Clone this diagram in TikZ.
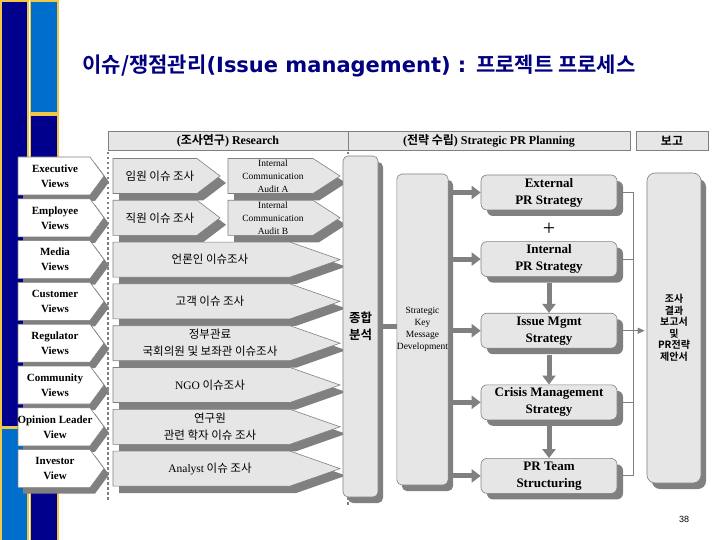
\documentclass[tikz,border=0pt]{standalone}
\usepackage{fontspec}
\setmainfont{Liberation Serif}
\newfontfamily\kr[BoldFont={Noto Sans CJK KR Bold}]{Noto Sans CJK KR}
\newfontfamily\titlefont{DejaVu Sans}
\newfontfamily\numfont{Liberation Sans}
\usetikzlibrary{positioning}
\usetikzlibrary{shadows,arrows.meta}

\definecolor{navytitle}{RGB}{0,0,128}
\definecolor{bardark}{RGB}{0,0,140}
\definecolor{barlight}{RGB}{0,110,205}
\definecolor{bargold}{RGB}{240,200,70}
\definecolor{boxgray}{RGB}{230,230,230}
\definecolor{edgegray}{RGB}{128,128,128}
\definecolor{shadowgray}{RGB}{128,128,128}

\tikzset{
  bar/.style={draw=bargold, line width=1.5pt},
  headbox/.style={rectangle, draw=edgegray, fill=boxgray, line width=0.8pt, minimum height=19, inner sep=0pt, font=\bfseries\fontsize{12}{14}\selectfont},
  viewshape/.style={fill=white, draw=edgegray, line width=0.6pt},
  resshape/.style={fill=boxgray, draw=edgegray, line width=0.6pt},
  viewtext/.style={align=center, inner sep=0pt, font=\bfseries\fontsize{11}{15}\selectfont},
  restext/.style={align=center, inner sep=0pt, font=\kr\fontsize{11.5}{17}\selectfont},
  audittext/.style={align=center, inner sep=0pt, font=\fontsize{9.5}{13}\selectfont},
  tallbox/.style={rectangle, rounded corners=5pt, draw=edgegray, fill=boxgray, line width=0.6pt, align=center, inner sep=0pt,
    drop shadow={shadow xshift=5pt, shadow yshift=-6pt, fill=shadowgray, opacity=1}},
  stratbox/.style={rectangle, rounded corners=6pt, draw=edgegray, fill=boxgray, line width=0.6pt, minimum width=136, minimum height=35, align=center, inner sep=0pt,
    font=\bfseries\fontsize{13}{17}\selectfont,
    drop shadow={shadow xshift=6pt, shadow yshift=-6pt, fill=shadowgray, opacity=1}},
  thickgray/.style={draw=shadowgray, line width=5pt},
  thickarrow/.style={thickgray, -{Triangle[length=9pt,width=13pt]}},
  thinline/.style={draw=edgegray, line width=1pt},
}

\begin{document}
\begin{tikzpicture}[x=1pt,y=-1pt]

\useasboundingbox (0,0) rectangle (720,540);

% side bars
\filldraw[bar, fill=bardark] (1,1) rectangle (28,427);
\filldraw[bar, fill=barlight] (1,428) rectangle (28,541);
\filldraw[bar, fill=barlight] (30.5,1) rectangle (58,113);
\filldraw[bar, fill=bardark] (30.5,115) rectangle (58,541);

\node[font=\titlefont\bfseries\fontsize{21}{24}\selectfont, text=navytitle, inner sep=0pt] (title) at (359,66)
  {{\kr 이슈/쟁점관리}(Issue management) : {\kr 프로젝트 프로세스}};

% headers
\node[headbox, minimum width=240] (hres) at (228,141) {({\kr 조사연구}) Research};
\node[headbox, minimum width=282] (hplan) at (489,141) {({\kr 전략 수립}) Strategic PR Planning};
\node[headbox, minimum width=72] (hrep) at (672,141) {{\kr 보고}};

% views
\foreach \yc/\nm/\txt in {176/exec/{Executive\\Views}, 217.8/empl/{Employee\\Views}, 259.6/media/{Media\\Views},
    301.4/cust/{Customer\\Views}, 343.2/regu/{Regulator\\Views}, 385/comm/{Community\\Views},
    426.8/opin/{Opinion Leader\\View}, 468.6/inve/{Investor\\View}}{
  \fill[shadowgray, shift={(5,6)}] (18,\yc-19) -- (90,\yc-19) -- (104,\yc) -- (90,\yc+19) -- (18,\yc+19) -- cycle;
  \filldraw[viewshape] (18,\yc-19) -- (90,\yc-19) -- (104,\yc) -- (90,\yc+19) -- (18,\yc+19) -- cycle;
  \node[viewtext] (\nm) at (55,\yc) {\txt};
}

% research, two short steps
\foreach \yc/\nm/\txt/\aud in {176/resexec/{임원 이슈 조사}/A, 217.8/resempl/{직원 이슈 조사}/B}{
  \fill[shadowgray, shift={(6,7)}] (113,\yc-17.5) -- (197,\yc-17.5) -- (220,\yc) -- (197,\yc+17.5) -- (113,\yc+17.5) -- cycle;
  \fill[shadowgray, shift={(6,7)}] (228,\yc-17.5) -- (313,\yc-17.5) -- (340,\yc) -- (313,\yc+17.5) -- (228,\yc+17.5) -- cycle;
  \filldraw[resshape] (113,\yc-17.5) -- (197,\yc-17.5) -- (220,\yc) -- (197,\yc+17.5) -- (113,\yc+17.5) -- cycle;
  \filldraw[resshape] (228,\yc-17.5) -- (313,\yc-17.5) -- (340,\yc) -- (313,\yc+17.5) -- (228,\yc+17.5) -- cycle;
  \node[restext] (\nm) at (160,\yc) {\txt};
  \node[audittext] (audit\aud) at (273,\yc) {Internal\\Communication\\Audit \aud};
}

% research, long steps
\foreach \yc/\nm/\txt in {259.6/resmedia/{언론인 이슈조사}, 301.4/rescust/{고객 이슈 조사},
    343.2/resregu/{정부관료\\국회의원 및 보좌관 이슈조사}, 385/rescomm/{{\rmfamily NGO} 이슈조사},
    426.8/resopin/{연구원\\관련 학자 이슈 조사}, 468.6/resinve/{{\rmfamily Analyst} 이슈 조사}}{
  \fill[shadowgray, shift={(6,7)}] (113,\yc-17.5) -- (290,\yc-17.5) -- (340,\yc) -- (290,\yc+17.5) -- (113,\yc+17.5) -- cycle;
  \filldraw[resshape] (113,\yc-17.5) -- (290,\yc-17.5) -- (340,\yc) -- (290,\yc+17.5) -- (113,\yc+17.5) -- cycle;
  \node[restext] (\nm) at (210,\yc) {\txt};
}

% dotted borders
\draw[draw=edgegray, line width=2.5pt, dash pattern=on 2.5pt off 2.5pt] (108,152) -- (108,501);
\draw[draw=edgegray, line width=2.5pt, dash pattern=on 2.5pt off 2.5pt] (348,152) -- (348,506);

% planning
\node[tallbox, minimum width=35, minimum height=341, font=\kr\bfseries\fontsize{12.5}{17}\selectfont] (synth) at (360.5,326.5) {종합\\분석};
\node[tallbox, minimum width=51, minimum height=311, font=\fontsize{9.5}{12}\selectfont] (skmd) at (422.5,329.5) {Strategic\\Key\\Message\\Development};

\node[stratbox] (ext) at (549,192.5) {External\\PR Strategy};
\node[stratbox, below=31pt of ext] (int) {Internal\\PR Strategy};
\node[stratbox, below=36pt of int] (issue) {Issue Mgmt\\Strategy};
\node[stratbox, below=36pt of issue] (crisis) {Crisis Management\\Strategy};
\node[stratbox, below=38pt of crisis] (team) {PR Team\\Structuring};

\node[font=\fontsize{22}{22}\selectfont, inner sep=0pt] (plus) at (549,229) {+};

\node[tallbox, rounded corners=8pt, minimum width=54, minimum height=310, font=\kr\bfseries\fontsize{10}{11.5}\selectfont] (report) at (674,328)
  {조사\\결과\\보고서\\및\\PR전략\\제안서};

% connectors
\draw[thickgray] ([xshift=5pt]synth.east) -- (synth.east -| skmd.west);
\draw[thickarrow] ([xshift=5pt]skmd.east |- ext.west) -- (ext.west);
\draw[thickarrow] ([xshift=5pt]skmd.east |- int.west) -- (int.west);
\draw[thickarrow] ([xshift=5pt]skmd.east |- issue.west) -- (issue.west);
\draw[thickarrow] ([xshift=5pt]skmd.east |- crisis.west) -- (crisis.west);
\draw[thickarrow] ([xshift=5pt]skmd.east |- team.west) -- (team.west);

\draw[thickarrow] ([yshift=-6pt]int.south) -- (issue.north);
\draw[thickarrow] ([yshift=-6pt]issue.south) -- (crisis.north);
\draw[thickarrow] ([yshift=-6pt]crisis.south) -- (team.north);

\draw[thinline] ([xshift=5pt]ext.east) -| ([xshift=16pt]team.east) -- ([xshift=5pt]team.east);
\draw[thinline] ([xshift=5pt]int.east) -- ++(11pt,0pt);
\draw[thinline] ([xshift=5pt]crisis.east) -- ++(11pt,0pt);
\draw[thinline, -{Triangle[length=7pt,width=6pt]}, shorten >=2pt] ([xshift=5pt]issue.east) -- (issue.east -| report.west);

\node[font=\numfont\fontsize{9}{11}\selectfont] (pagenum) at (684,519) {38};

\end{tikzpicture}
\end{document}
